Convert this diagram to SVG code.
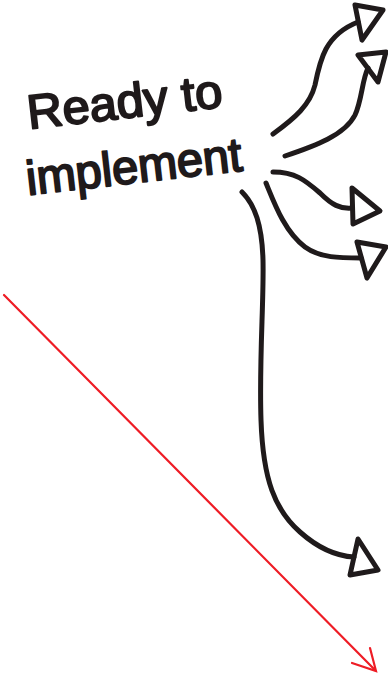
<svg xmlns="http://www.w3.org/2000/svg" width="388" height="677" viewBox="0 0 388 677">
<style>
.conn{fill:none;stroke:#1f1a1b;stroke-width:5;stroke-linecap:round;stroke-linejoin:round}
.head{fill:none;stroke:#1f1a1b;stroke-width:5;stroke-linejoin:round}
.hand{font-family:"Liberation Sans","DejaVu Sans",sans-serif;font-size:48px;fill:#1f1a1b;stroke:#1f1a1b;stroke-width:2;stroke-linejoin:round}
.red{fill:none;stroke:#ee1c25;stroke-width:2.2;stroke-linecap:round;stroke-linejoin:miter}
</style>
<rect width="388" height="677" fill="#fff"/>
<g id="label">
<text class="hand" x="29" y="129" textLength="196" lengthAdjust="spacingAndGlyphs" transform="rotate(-6.5 29 129)">Ready to</text>
<text class="hand" x="28" y="195" textLength="217" lengthAdjust="spacingAndGlyphs" transform="rotate(-6.5 28 195)">implement</text>
</g>
<g id="connectors">
<path class="conn" d="M273,134 C295,118 310,105 315,85 C320,60 325,35 358,22"/>
<polygon class="head" points="355,5 383,10 362,40"/>
<path class="conn" d="M285,156 C315,146 345,135 355,115 C362,100 362,80 368,68"/>
<polygon class="head" points="358,55 386,52 378,82"/>
<path class="conn" d="M273,172 C295,172 305,180 320,193 C332,205 340,209 352,208"/>
<polygon class="head" points="352,188 380,211 353,224"/>
<path class="conn" d="M266,183 C275,205 285,232 305,247 C320,258 340,258 361,258"/>
<polygon class="head" points="357,242 386,247 367,278"/>
<path class="conn" d="M242,192 C255,205 262,225 263,260 C264,300 259,360 261,420 C263,480 275,510 300,532 C318,548 335,556 354,557"/>
<polygon class="head" points="358,539 378,570 350,575"/>
</g>
<g id="red-arrow">
<path class="red" d="M4,295 L375,670"/>
<path class="red" d="M352,663 L376,671 L370,648"/>
</g>
</svg>
